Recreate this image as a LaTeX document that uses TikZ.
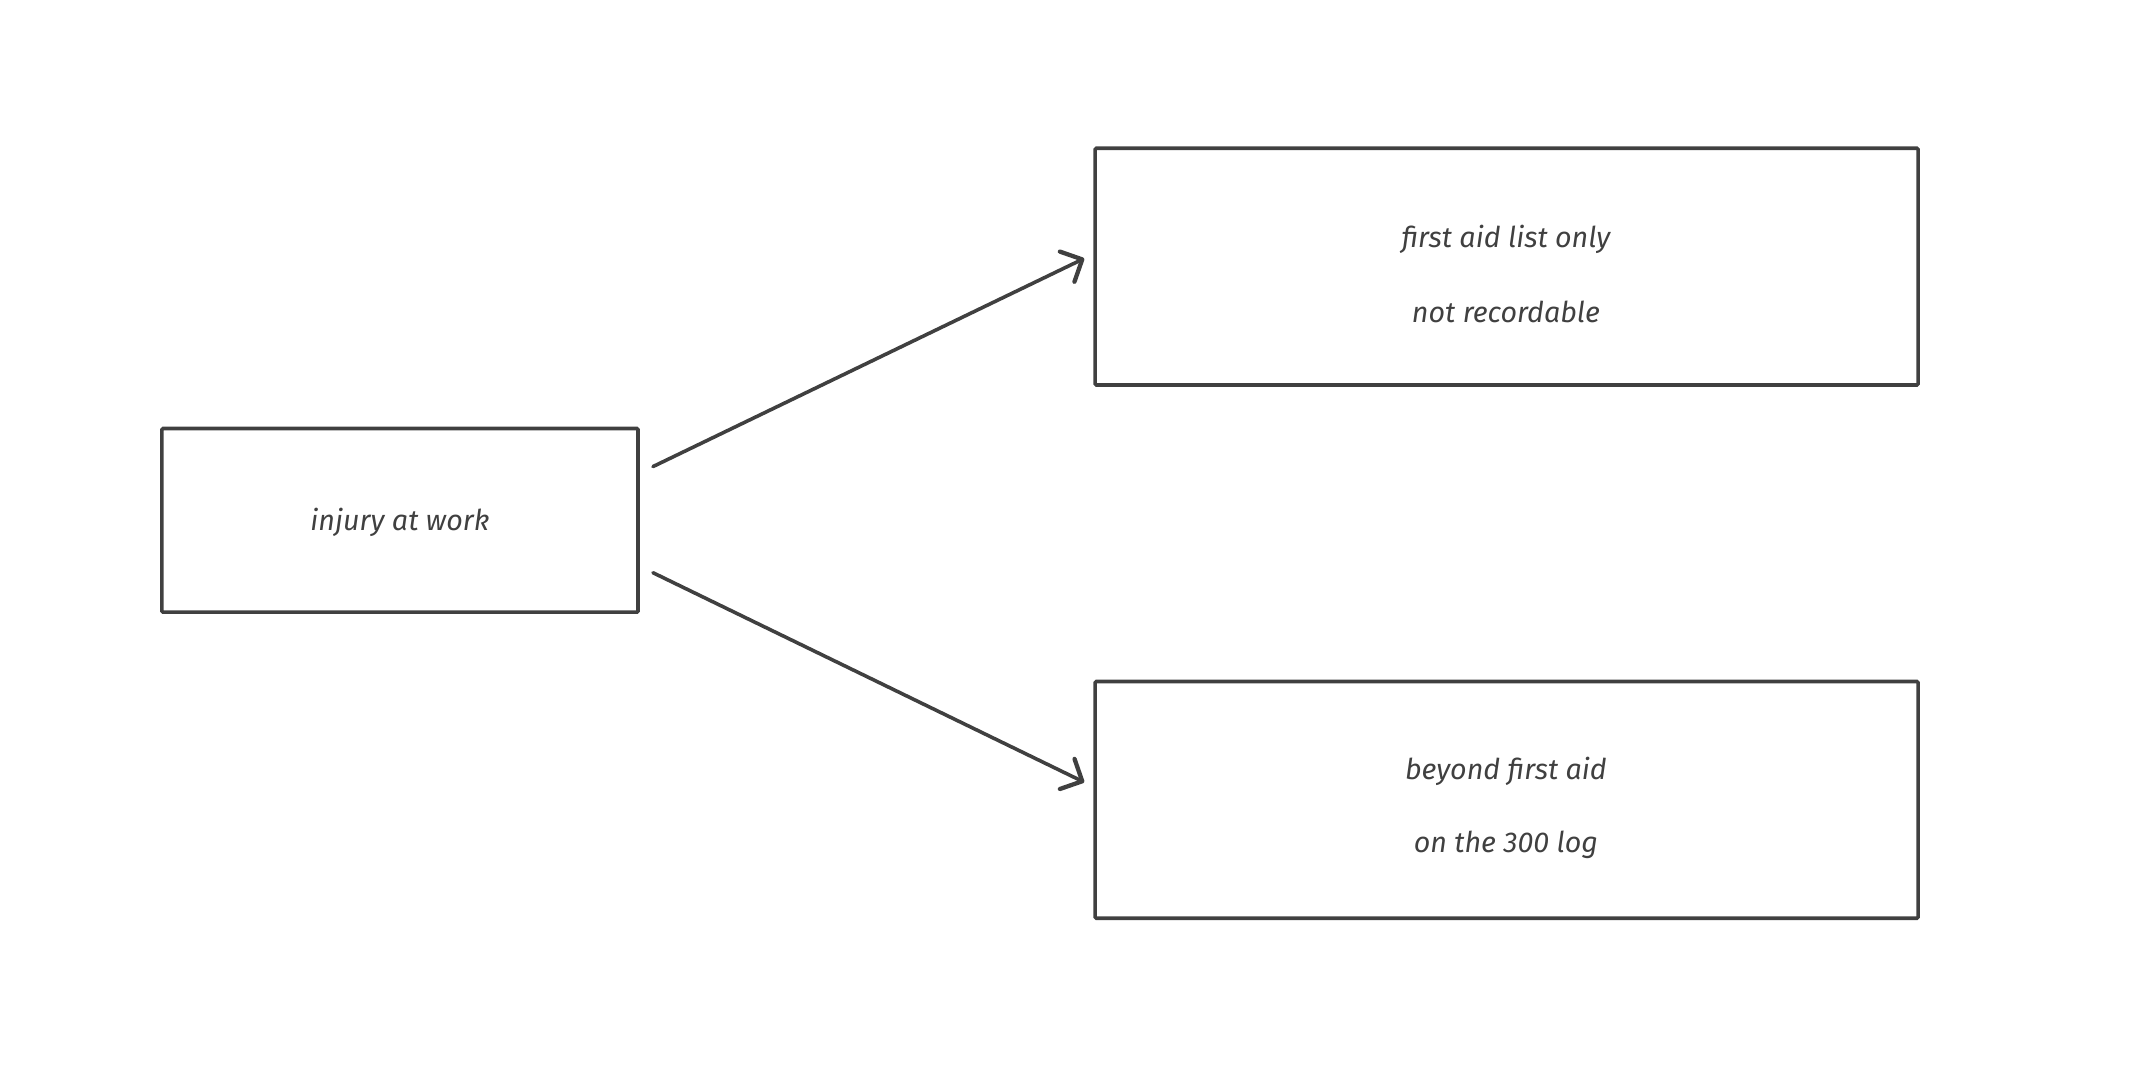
\documentclass[tikz,border=0pt]{standalone}
\usepackage{fontspec}
\setmainfont{Fira Sans}
\usetikzlibrary{arrows.meta}
\begin{document}
\begin{tikzpicture}[x=0.02cm,y=-0.02cm,
  box/.style={draw=black!75,line width=1.5pt,rounded corners=0.5pt,inner sep=0pt},
  lbl/.style={font=\fontsize{12}{14}\selectfont\itshape,text=black!75},
  arr/.style={draw=black!75,line width=1.5pt,line cap=round,-{Straight Barb[length=7pt,width=14pt,line width=1.8pt,round]}}]
\useasboundingbox (0,0) rectangle (1568,784);
\node[box,minimum width=350*0.02cm,minimum height=135*0.02cm] (a) at (294,382.5) {};
\node[box,minimum width=605*0.02cm,minimum height=174*0.02cm] (b) at (1107.5,196) {};
\node[box,minimum width=605*0.02cm,minimum height=174*0.02cm] (c) at (1107.5,588) {};
\node[lbl] (ta) at (294,384) {injury at work};
\node[lbl] (tb1) at (1107,176) {first aid list only};
\node[lbl] (tb2) at (1107,229) {not recordable};
\node[lbl] (tc1) at (1107,567) {beyond first aid};
\node[lbl] (tc2) at (1107,621) {on the 300 log};
\coordinate (s1) at (480,343); \coordinate (e1) at (797,190);
\coordinate (s2) at (480,421); \coordinate (e2) at (797,575);
\draw[arr] (s1) -- (e1);
\draw[arr] (s2) -- (e2);
\end{tikzpicture}
\end{document}
